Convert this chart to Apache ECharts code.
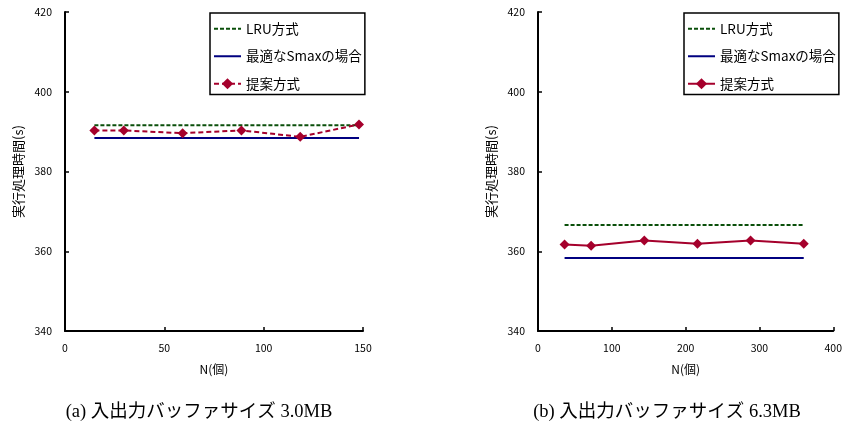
<!DOCTYPE html>
<html>
<head>
<meta charset="utf-8">
<script src="https://cdn.jsdelivr.net/npm/echarts@6/dist/echarts.min.js"></script>
<style>
  html, body { margin: 0; padding: 0; background: #fff; }
  #chart { width: 845px; height: 427px; }
</style>
</head>
<body>
<div id="chart"></div>
<script>
// Buffer size 3.0MB
const nA = [14.8, 29.6, 59.2, 88.8, 118.4, 148];
const proposedA = [390.3, 390.3, 389.6, 390.3, 388.7, 391.8];
const lruA = 391.6;
const smaxA = 388.4;

// Buffer size 6.3MB
const nB = [36, 72, 144, 216, 288, 360];
const proposedB = [361.7, 361.4, 362.7, 361.9, 362.7, 361.9];
const lruB = 366.6;
const smaxB = 358.3;

const seriesNames = ['LRU方式', '最適なSmaxの場合', '提案方式'];
const captions = ['(a) 入出力バッファサイズ 3.0MB', '(b) 入出力バッファサイズ 6.3MB'];
const yName = '実行処理時間(s)';
const xName = 'N(個)';

const RED = '#A5002C';
const GREEN = '#0A4F0A';
const NAVY = '#000080';
const FONT = '"Noto Sans CJK JP", "Noto Sans", sans-serif';
const CAPTION_FONT = '18.5px "Liberation Serif", "Noto Sans CJK JP", serif';

function flat(xs, v) {
  return [[xs[0], v], [xs[xs.length - 1], v]];
}

const grids = [
  { left: 65, top: 12, width: 298, height: 319 },
  { left: 538, top: 12, width: 299, height: 319 }
];

function xAxis(idx, max, interval) {
  return {
    type: 'value', gridIndex: idx, min: 0, max: max, interval: interval,
    name: xName, nameLocation: 'middle', nameGap: 32,
    nameTextStyle: { color: '#000', fontSize: 12, fontFamily: FONT },
    axisLine: { lineStyle: { color: '#000', width: 2 } },
    axisTick: { inside: true, length: 4, lineStyle: { color: '#000', width: 1.5 } },
    axisLabel: { color: '#000', fontSize: 10.5, margin: 12, fontFamily: FONT },
    splitLine: { show: false }
  };
}

function yAxis(idx) {
  return {
    type: 'value', gridIndex: idx, min: 340, max: 420, interval: 20,
    name: yName, nameLocation: 'middle', nameGap: 40,
    nameTextStyle: { color: '#000', fontSize: 13, fontFamily: FONT },
    axisLine: { show: true, lineStyle: { color: '#000', width: 2 } },
    axisTick: { show: true, inside: true, length: 4, lineStyle: { color: '#000', width: 1.5 } },
    axisLabel: { color: '#000', fontSize: 10.5, margin: 13, fontFamily: FONT },
    splitLine: { show: false }
  };
}

// Line-only entries hide the marker but keep the stroke sample
function legend(left, proposedType) {
  return {
    orient: 'vertical', left: left, top: 13,
    padding: [9, 3, 4, 3], itemGap: 14, itemWidth: 27, itemHeight: 14,
    borderColor: '#000', borderWidth: 1.5, backgroundColor: '#fff',
    selectedMode: false,
    textStyle: { color: '#000', fontSize: 13.5, fontFamily: FONT },
    data: [
      { name: seriesNames[0], itemStyle: { opacity: 0 } },
      { name: seriesNames[1], itemStyle: { opacity: 0 } },
      { name: seriesNames[2], lineStyle: { type: proposedType } }
    ]
  };
}

function seriesFor(idx, xs, lru, smax, proposed, proposedType) {
  return [
    {
      name: seriesNames[0], type: 'line', xAxisIndex: idx, yAxisIndex: idx,
      data: flat(xs, lru), symbol: 'none', silent: true,
      lineStyle: { color: GREEN, width: 2, type: [4, 2] }, itemStyle: { color: GREEN }
    },
    {
      name: seriesNames[1], type: 'line', xAxisIndex: idx, yAxisIndex: idx,
      data: flat(xs, smax), symbol: 'none', silent: true,
      lineStyle: { color: NAVY, width: 2, type: 'solid' }, itemStyle: { color: NAVY }
    },
    {
      name: seriesNames[2], type: 'line', xAxisIndex: idx, yAxisIndex: idx,
      data: xs.map((x, i) => [x, proposed[i]]),
      symbol: 'diamond', symbolSize: 10, showAllSymbol: true,
      lineStyle: { color: RED, width: 2, type: proposedType },
      itemStyle: { color: RED }
    }
  ];
}

const chart = echarts.init(document.getElementById('chart'), null, { renderer: 'canvas' });
chart.setOption({
  animation: false,
  backgroundColor: '#fff',
  grid: grids,
  xAxis: [xAxis(0, 150, 50), xAxis(1, 400, 100)],
  yAxis: [yAxis(0), yAxis(1)],
  legend: [legend(210, [5, 3]), legend(684, 'solid')],
  series: [].concat(
    seriesFor(0, nA, lruA, smaxA, proposedA, [5, 3]),
    seriesFor(1, nB, lruB, smaxB, proposedB, 'solid')
  ),
  graphic: [
    { type: 'text', x: 199, y: 412,
      style: { text: captions[0], fill: '#000', font: CAPTION_FONT, align: 'center', verticalAlign: 'middle' } },
    { type: 'text', x: 667, y: 412,
      style: { text: captions[1], fill: '#000', font: CAPTION_FONT, align: 'center', verticalAlign: 'middle' } }
  ]
});
</script>
</body>
</html>
